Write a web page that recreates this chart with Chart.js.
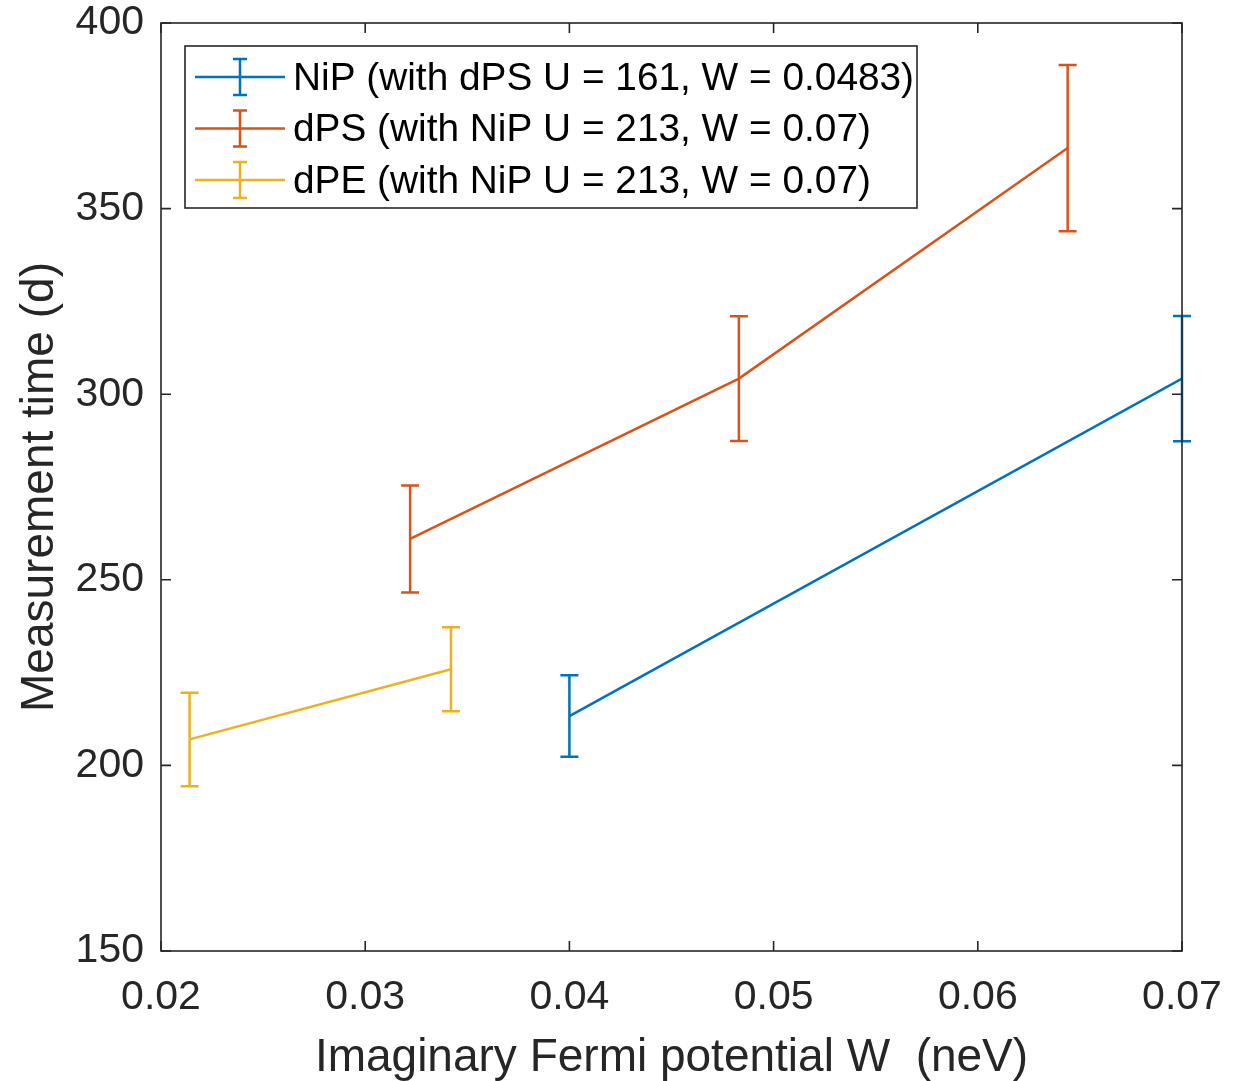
<!DOCTYPE html>
<html>
<head>
<meta charset="utf-8">
<script src="https://cdn.jsdelivr.net/npm/chart.js@4.4.1/dist/chart.umd.min.js"></script>
<style>
  html, body { margin: 0; padding: 0; background: #fff; }
  #wrap { width: 1248px; height: 1081px; }
</style>
</head>
<body>
<div id="wrap"><canvas id="grafico" width="1248" height="1081"></canvas></div>
<script>
// ticks of both axes
const xTicks = [0.02, 0.03, 0.04, 0.05, 0.06, 0.07];
const yTicks = [150, 200, 250, 300, 350, 400];

const seriesNames = [
  'NiP (with dPS U = 161, W = 0.0483)',
  'dPS (with NiP U = 213, W = 0.07)',
  'dPE (with NiP U = 213, W = 0.07)'
];
const seriesColors = ['#0072BD', '#D95319', '#EDB120'];

// NiP
const nipW = [0.0400, 0.0700];
const nipTime = [213.3, 304.2];
const nipErr = [11.0, 16.9];

// dPS
const dpsW = [0.0322, 0.0483, 0.0644];
const dpsTime = [261.0, 304.2, 366.3];
const dpsErr = [14.4, 16.8, 22.4];

// dPE
const dpeW = [0.0214, 0.0342];
const dpeTime = [207.0, 225.9];
const dpeErr = [12.6, 11.3];

const allW = [nipW, dpsW, dpeW];
const allTime = [nipTime, dpsTime, dpeTime];
const allErr = [nipErr, dpsErr, dpeErr];

const FONT = "'Liberation Sans', Arial, Helvetica, sans-serif";
const AXIS_COLOR = '#262626';
const LW = 2.5;

function pontos(ws, ts) {
  return ws.map((w, i) => ({ x: w, y: ts[i] }));
}

// error bars, frame with inward ticks, legend box
const extrasPlugin = {
  id: 'extras',
  afterDatasetsDraw(chart) {
    const ctx = chart.ctx;
    const sx = chart.scales.x, sy = chart.scales.y;
    ctx.save();
    ctx.lineWidth = LW;
    const cap = 9;
    for (let d = allW.length - 1; d >= 0; d--) {
      ctx.strokeStyle = seriesColors[d];
      allW[d].forEach((w, i) => {
        const px = sx.getPixelForValue(w);
        const top = sy.getPixelForValue(allTime[d][i] + allErr[d][i]);
        const bot = sy.getPixelForValue(allTime[d][i] - allErr[d][i]);
        ctx.beginPath();
        ctx.moveTo(px, top); ctx.lineTo(px, bot);
        ctx.moveTo(px - cap, top); ctx.lineTo(px + cap, top);
        ctx.moveTo(px - cap, bot); ctx.lineTo(px + cap, bot);
        ctx.stroke();
      });
    }
    ctx.restore();
  },
  afterDraw(chart) {
    const ctx = chart.ctx;
    const a = chart.chartArea;
    const sx = chart.scales.x, sy = chart.scales.y;
    const tl = 10;
    ctx.save();
    ctx.strokeStyle = AXIS_COLOR;
    ctx.lineWidth = 1.6;
    ctx.strokeRect(a.left, a.top, a.right - a.left, a.bottom - a.top);
    ctx.beginPath();
    xTicks.forEach(v => {
      const p = sx.getPixelForValue(v);
      ctx.moveTo(p, a.bottom); ctx.lineTo(p, a.bottom - tl);
      ctx.moveTo(p, a.top); ctx.lineTo(p, a.top + tl);
    });
    yTicks.forEach(v => {
      const p = sy.getPixelForValue(v);
      ctx.moveTo(a.left, p); ctx.lineTo(a.left + tl, p);
      ctx.moveTo(a.right, p); ctx.lineTo(a.right - tl, p);
    });
    ctx.stroke();

    // legend
    const lx = 185, ly = 46, lw = 732, lh = 162;
    ctx.fillStyle = '#fff';
    ctx.fillRect(lx, ly, lw, lh);
    ctx.strokeRect(lx, ly, lw, lh);
    ctx.font = '38.8px ' + FONT;
    ctx.textBaseline = 'middle';
    ctx.textAlign = 'left';
    seriesNames.forEach((nome, i) => {
      const cy = 77 + i * 51.5;
      ctx.strokeStyle = seriesColors[i];
      ctx.lineWidth = LW;
      ctx.beginPath();
      ctx.moveTo(195, cy); ctx.lineTo(285, cy);
      ctx.moveTo(240, cy - 18); ctx.lineTo(240, cy + 18);
      ctx.moveTo(233, cy - 18); ctx.lineTo(247, cy - 18);
      ctx.moveTo(233, cy + 18); ctx.lineTo(247, cy + 18);
      ctx.stroke();
      ctx.fillStyle = '#000';
      ctx.fillText(nome, 293, cy + 2);
    });
    ctx.restore();
  }
};

const ctx = document.getElementById('grafico').getContext('2d');
new Chart(ctx, {
  type: 'line',
  data: {
    datasets: seriesNames.map((nome, i) => ({
      label: nome,
      data: pontos(allW[i], allTime[i]),
      borderColor: seriesColors[i],
      backgroundColor: seriesColors[i],
      borderWidth: LW,
      pointRadius: 0,
      tension: 0,
      fill: false
    }))
  },
  options: {
    responsive: false,
    animation: false,
    events: [],
    layout: { padding: { top: 23, right: 66, left: 0, bottom: 0 } },
    plugins: { legend: { display: false }, tooltip: { enabled: false } },
    scales: {
      x: {
        type: 'linear',
        min: 0.02, max: 0.07,
        afterBuildTicks: s => { s.ticks = xTicks.map(v => ({ value: v })); },
        afterFit: s => { s.height = 130; },
        grid: { display: false, drawTicks: false },
        border: { display: false },
        ticks: {
          padding: 26,
          color: AXIS_COLOR,
          maxRotation: 0,
          font: { family: FONT, size: 41, lineHeight: 1 },
          callback: v => v.toFixed(2)
        },
        title: {
          display: true,
          text: 'Imaginary Fermi potential W  (neV)',
          color: AXIS_COLOR,
          font: { family: FONT, size: 46, lineHeight: 1 },
          padding: { top: 0, bottom: 0 }
        }
      },
      y: {
        min: 150, max: 400,
        afterBuildTicks: s => { s.ticks = yTicks.map(v => ({ value: v })); },
        afterFit: s => { s.width = 161; s.paddingTop = 0; s.paddingBottom = 0; },
        grid: { display: false, drawTicks: false },
        border: { display: false },
        ticks: {
          padding: 17,
          color: AXIS_COLOR,
          font: { family: FONT, size: 41, lineHeight: 1 }
        },
        title: {
          display: true,
          text: 'Measurement time (d)',
          color: AXIS_COLOR,
          font: { family: FONT, size: 46, lineHeight: 1 },
          padding: { top: 17, bottom: 0 }
        }
      }
    }
  },
  plugins: [extrasPlugin]
});
</script>
</body>
</html>
